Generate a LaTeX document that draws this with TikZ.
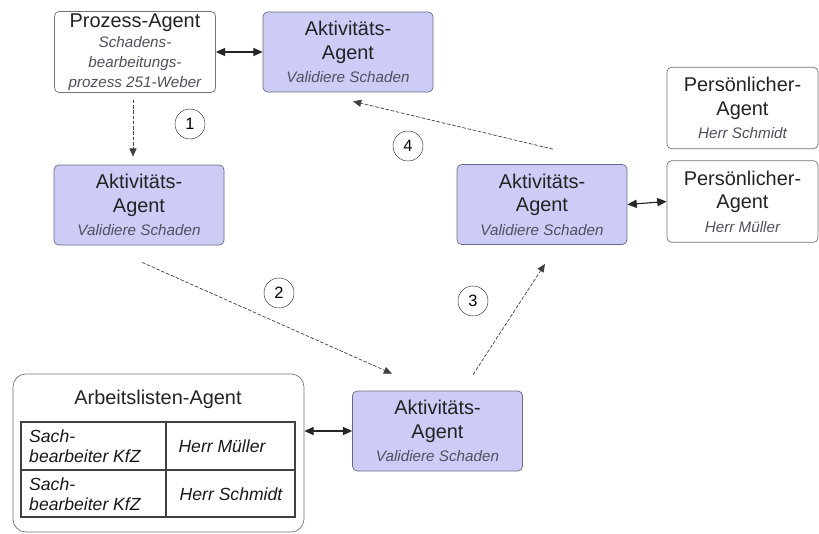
\documentclass[tikz,border=0pt]{standalone}
\usepackage{fontspec}
\setmainfont{Liberation Sans}
\usetikzlibrary{arrows.meta,calc}

\definecolor{aktivfill}{RGB}{204,204,246}
\definecolor{aktivrand}{RGB}{105,105,135}
\definecolor{randgrau}{RGB}{115,115,115}
\definecolor{textgrau}{RGB}{35,35,35}
\definecolor{subgrau}{RGB}{80,80,95}

\newcommand{\titelfont}{\fontsize{17}{20}\selectfont}
\newcommand{\subfont}{\fontsize{13}{16}\selectfont\itshape\color{subgrau}}
\newcommand{\zellfont}{\fontsize{15}{17}\selectfont\itshape}

\tikzset{
	agent/.style={draw=randgrau, fill=white, rounded corners=4pt, align=center,
		text=textgrau, font=\titelfont, inner sep=1pt, line width=0.6pt},
	aktiv/.style={agent, draw=aktivrand, fill=aktivfill, minimum width=5.1cm, minimum height=2.4cm},
	pers/.style={agent, minimum width=4.53cm, minimum height=2.45cm},
	nummer/.style={circle, draw=black!80, fill=white, minimum size=0.9cm, inner sep=0pt,
		font=\fontsize{14}{16}\selectfont},
	pfeil/.style={-{Triangle[length=7pt,width=6pt]}, draw=black!75, line width=0.6pt,
		dash pattern=on 3pt off 1.5pt},
	doppel/.style={{Triangle[length=8pt,width=7pt]}-{Triangle[length=8pt,width=7pt]},
		draw=black!85, line width=1pt},
	tabelle/.style={draw=black!75, line width=0.9pt},
	zelle/.style={font=\zellfont, text=black!90, inner sep=0pt}
}

\begin{document}
\begin{tikzpicture}[x=0.03cm, y=-0.03cm]
	\useasboundingbox (0,0) rectangle (819,533);

	% agenten
	\node[agent, minimum width=4.83cm, minimum height=2.43cm] (prozess) at (135,52)
		{Prozess-Agent\\[-3pt]{\subfont Schadens-}\\[-3pt]{\subfont bearbeitungs-}\\[-3pt]{\subfont prozess 251-Weber}};
	\node[aktiv] (aktiv1) at (348,52) {Aktivitäts-\\Agent\\{\subfont Validiere Schaden}};
	\node[aktiv] (aktiv2) at (139,205) {Aktivitäts-\\Agent\\{\subfont Validiere Schaden}};
	\node[aktiv] (aktiv3) at (542,204.5) {Aktivitäts-\\Agent\\{\subfont Validiere Schaden}};
	\node[aktiv] (aktiv4) at (437.5,431) {Aktivitäts-\\Agent\\{\subfont Validiere Schaden}};
	\node[pers] (pers1) at (742.5,108) {Persönlicher-\\Agent\\{\subfont Herr Schmidt}};
	\node[pers] (pers2) at (742.5,201.5) {Persönlicher-\\Agent\\{\subfont Herr Müller}};

	% arbeitsliste
	\node[agent, rounded corners=11pt, minimum width=8.73cm, minimum height=4.74cm] (liste) at (158.5,453) {};
	\node[font=\titelfont, text=textgrau] (listentitel) at (158,399) {Arbeitslisten-Agent};
	\draw[tabelle] (21,422) rectangle (295,517);
	\draw[tabelle] (166,422) -- (166,517);
	\draw[tabelle] (21,470) -- (295,470);
	\foreach \y/\x/\name in {446/222/Müller, 494/231/Schmidt}
	{
		\node[zelle, anchor=west, align=left] (sach\y) at (29,\y) {Sach-\\bearbeiter KfZ};
		\node[zelle] (herr\y) at (\x,\y) {Herr \name};
	}

	% verbindungen
	\draw[doppel] (prozess.east) -- (aktiv1.west);
	\draw[doppel] (aktiv3.east) -- (pers2.west);
	\draw[doppel] (aktiv4.west) -- (aktiv4.west -| liste.east);

	\draw[pfeil] ($(prozess.south)+(-2,7)$) -- ($(aktiv2.north)+(-6,-8)$);
	\draw[pfeil] ($(aktiv2.south)+(3,17)$) -- ($(aktiv4.north)+(-45.5,-17)$);
	\draw[pfeil] ($(aktiv4.north)+(35.5,-16)$) -- ($(aktiv3.south)+(3,19)$);
	\draw[pfeil] ($(aktiv3.north)+(11,-15)$) -- ($(aktiv1.south)+(5,9)$);

	% nummern
	\node[nummer] (n1) at (190,124) {1};
	\node[nummer] (n2) at (279,293) {2};
	\node[nummer] (n3) at (473,301) {3};
	\node[nummer] (n4) at (408,146) {4};
\end{tikzpicture}
\end{document}
